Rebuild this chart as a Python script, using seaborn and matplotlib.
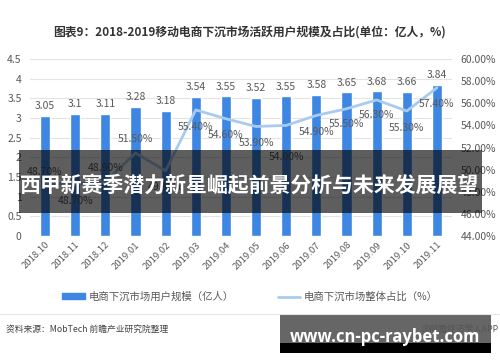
import seaborn as sns
import pandas as pd
import matplotlib.pyplot as plt
import matplotlib.patches as mpatches
from matplotlib.lines import Line2D
from matplotlib.ticker import PercentFormatter

months = ['2018.10', '2018.11', '2018.12', '2019.01', '2019.02', '2019.03', '2019.04',
          '2019.05', '2019.06', '2019.07', '2019.08', '2019.09', '2019.10', '2019.11']
users = [3.05, 3.1, 3.11, 3.28, 3.18, 3.54, 3.55, 3.52, 3.55, 3.58, 3.65, 3.68, 3.66, 3.84]
share = [48.7, 48.7, 48.9, 51.5, 49.9, 55.4, 54.6, 53.9, 54.0, 54.9, 55.5, 56.3, 55.3, 57.4]
user_labels = ['3.05', '3.1', '3.11', '3.28', '3.18', '3.54', '3.55', '3.52', '3.55',
               '3.58', '3.65', '3.68', '3.66', '3.84']

# vertical offset (points) of each share label from its point
share_label_dy = [9, -12, 10, 10, -12, -12, -12, -12, -23, -12, -11, -11, -12, -12]

bar_color = '#3D86E2'
line_color = '#A9CBF0'
text_color = '#595959'

sns.set_style('white')
plt.rcParams['font.family'] = ['Noto Sans CJK SC', 'DejaVu Sans']

df = pd.DataFrame({'month': months, 'users': users, 'share': share})

fig = plt.figure(figsize=(5, 3.62), dpi=100)
ax = fig.add_axes([0.06, 0.348, 0.844, 0.489])

sns.barplot(data=df, x='month', y='users', color=bar_color, width=0.34,
            saturation=1, ax=ax, zorder=2)
ax.set_ylim(0, 4.5)
ax.set_yticks([i * 0.5 for i in range(10)])
ax.set_yticklabels(['0', '0.5', '1', '1.5', '2', '2.5', '3', '3.5', '4', '4.5'])
ax.yaxis.grid(True, color='#E3E3E3', linewidth=0.8, zorder=0)
ax.set_axisbelow(True)
for s in ax.spines.values():
    s.set_visible(False)
ax.set_xlabel('')
ax.set_ylabel('')
ax.tick_params(axis='y', length=0, labelsize=7.5, labelcolor=text_color, pad=6)
ax.tick_params(axis='x', length=0, labelsize=6.8, labelcolor=text_color, pad=3)
plt.setp(ax.get_xticklabels(), rotation=45, ha='right', rotation_mode='anchor')

for i, v in enumerate(users):
    ax.text(i, v + 0.12, user_labels[i], ha='center', va='bottom',
            fontsize=7.5, color=text_color)

ax2 = ax.twinx()
sns.lineplot(data=df, x='month', y='share', color=line_color, linewidth=2,
             ax=ax2, sort=False)
ax2.set_ylim(44, 60)
ax2.set_yticks(range(44, 61, 2))
ax2.yaxis.set_major_formatter(PercentFormatter(decimals=2))
ax2.tick_params(axis='y', length=0, labelsize=7.5, labelcolor=text_color, pad=6)
ax2.set_ylabel('')
ax2.set_xlabel('')
for s in ax2.spines.values():
    s.set_visible(False)
ax2.set_xlim(-0.5, len(months) - 0.5)

for i, v in enumerate(share):
    ax2.annotate(f'{v:.2f}%', (i, v), xytext=(0, share_label_dy[i]),
                 textcoords='offset points', ha='center', va='center',
                 fontsize=7.5, color=text_color)

# title
fig.text(0.5, 1 - 32 / 362, '图表9：2018-2019移动电商下沉市场活跃用户规模及占比(单位：亿人，%)',
         ha='center', va='center', fontsize=8.5, fontweight='bold', color='#333333')

# legend
handles = [mpatches.Patch(color=bar_color, label='电商下沉市场用户规模（亿人）'),
           Line2D([], [], color=line_color, linewidth=2, label='电商下沉市场整体占比（%）')]
fig.legend(handles=handles, loc='center', bbox_to_anchor=(0.5, 1 - 297 / 362), ncol=2,
           frameon=False, fontsize=7.5, labelcolor=text_color, handlelength=2.2,
           handleheight=0.5, columnspacing=4.2, handletextpad=0.3)

# separator and source
fig.add_artist(Line2D([0, 1], [1 - 314 / 362] * 2, color='#E6E6E6', linewidth=0.8))
fig.text(6 / 500, 1 - 329 / 362, '资料来源：MobTech 前瞻产业研究院整理', ha='left', va='center',
         fontsize=6.3, color='#444444')
fig.text(499 / 500, 1 - 329 / 362, '@前瞻经济学人APP', ha='right', va='center',
         fontsize=6.3, color='#555555')

# overlay banners
fig.add_artist(mpatches.Rectangle((19 / 500, 1 - 213 / 362), 463 / 500, 63 / 362,
                                  transform=fig.transFigure, color='black', alpha=0.63,
                                  linewidth=0))
fig.text(250 / 500, 1 - 185 / 362, '西甲新赛季潜力新星崛起前景分析与未来发展展望',
         ha='center', va='center', fontsize=15, fontweight='bold', color='white')

fig.add_artist(mpatches.Rectangle((280 / 500, 1 - 343 / 362), 211 / 500, 28 / 362,
                                  transform=fig.transFigure, color='black', alpha=0.6,
                                  linewidth=0))
fig.add_artist(mpatches.Rectangle((280 / 500, 1 - 353 / 362), 211 / 500, 10 / 362,
                                  transform=fig.transFigure, color='black', linewidth=0))
fig.text(385 / 500, 1 - 337 / 362, 'www.cn-pc-raybet.com', ha='center', va='center',
         fontsize=12, fontweight='bold', color='white', family='Open Sans')

fig.savefig('out.png', dpi=100)
